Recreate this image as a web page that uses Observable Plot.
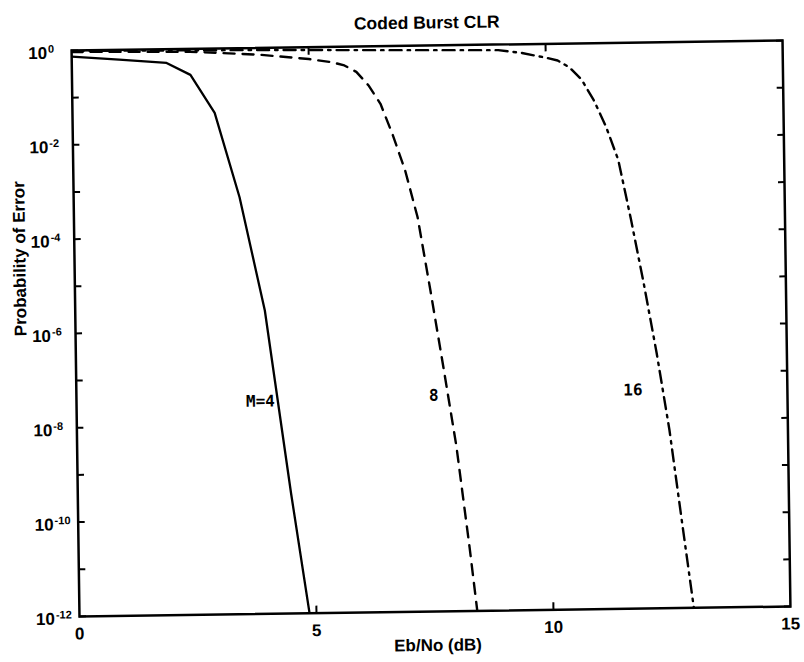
<!DOCTYPE html>
<html>
<head>
<meta charset="utf-8">
<script src="https://cdn.jsdelivr.net/npm/d3@7"></script>
<script src="https://cdn.jsdelivr.net/npm/@observablehq/plot@0.6"></script>
<style>
  html, body { margin: 0; padding: 0; background: #fff; }
  #chart { width: 804px; height: 662px; overflow: hidden; }
  /* the printed page sits slightly askew */
  #chart svg { display: block; transform: rotate(-0.8deg); transform-origin: 430.4px 328.2px; }
</style>
</head>
<body>
<div id="chart"></div>
<script>
// Eb/No (dB) and probability of error for each modulation order
const ebnoM4  = [0, 1, 2, 2.5, 3, 3.5, 4, 4.5, 5];
const pErrM4  = [0.74, 0.62, 0.51, 0.28, 0.043, 6.9e-4, 2.7e-6, 3.5e-10, 8.9e-14];

const ebnoM8  = [0, 2.5, 4, 5, 5.5, 5.75, 6, 6.25, 6.5, 6.75, 7, 7.25, 7.5, 7.75, 8, 8.25, 8.5];
const pErrM8  = [0.93, 0.87, 0.71, 0.56, 0.47, 0.40, 0.29, 0.15, 0.06, 0.013, 2.3e-3, 2.3e-4, 6.3e-6, 1.5e-7, 3.2e-9, 2.2e-11, 1.0e-13];

const ebnoM16 = [0, 4, 7, 9, 9.5, 10, 10.25, 10.5, 10.75, 11, 11.25, 11.5, 11.75, 12, 12.25, 12.5, 12.75, 13];
const pErrM16 = [0.98, 0.9, 0.81, 0.76, 0.65, 0.51, 0.44, 0.31, 0.17, 0.062, 0.017, 3.3e-3, 1.8e-4, 7.9e-6, 2.7e-7, 6.0e-9, 5.3e-11, 5.0e-13];

// curve annotations
const curveLabels = ["M=4", "8", "16"];
const labelEbno   = [3.88, 7.54, 11.74];
const labelPErr   = [3.2e-8, 3.8e-8, 4.3e-8];

// axes
const xTickValues = [0, 5, 10, 15];
const xInnerTicks = [5, 10];
const yDecades    = [1, 1e-1, 1e-2, 1e-3, 1e-4, 1e-5, 1e-6, 1e-7, 1e-8, 1e-9, 1e-10, 1e-11, 1e-12];
const yTickValues = [1, 1e-2, 1e-4, 1e-6, 1e-8, 1e-10, 1e-12];
const yTickBase   = "10";
const yTickExps   = ["0", "-2", "-4", "-6", "-8", "-10", "-12"];

const titleText = "Coded Burst CLR";
const xLabel = "Eb/No (dB)";
const yLabel = "Probability of Error";

const toRows = (xs, ps) => xs.map((x, i) => ({ebno: x, p: ps[i]}));
const rowsM4 = toRows(ebnoM4, pErrM4);
const rowsM8 = toRows(ebnoM8, pErrM8);
const rowsM16 = toRows(ebnoM16, pErrM16);
const labelRows = curveLabels.map((t, i) => ({text: t, ebno: labelEbno[i], p: labelPErr[i]}));

const ink = "#000";
const tickStyle = {tickSize: 7, fill: "none", label: null, stroke: ink, strokeWidth: 2};

const chart = Plot.plot({
  width: 804,
  height: 662,
  marginLeft: 75,
  marginRight: 18,
  marginTop: 45,
  marginBottom: 51,
  style: {
    fontFamily: "'Liberation Sans', Arial, Helvetica, sans-serif",
    fontSize: "17px",
    fontWeight: "bold",
    color: ink,
    background: "#fff",
    overflow: "visible"
  },
  x: {domain: [0, 15]},
  y: {type: "log", domain: [1e-12, 1]},
  marks: [
    // curves
    Plot.line(rowsM4,  {x: "ebno", y: "p", stroke: ink, strokeWidth: 2.3, clip: true}),
    Plot.line(rowsM8,  {x: "ebno", y: "p", stroke: ink, strokeWidth: 2.4, strokeDasharray: "11,8", clip: true}),
    Plot.line(rowsM16, {x: "ebno", y: "p", stroke: ink, strokeWidth: 2.4, strokeDasharray: "12,6,2.5,6", clip: true}),
    Plot.text(labelRows, {
      x: "ebno", y: "p", text: "text",
      fontFamily: "'DejaVu Sans Mono', 'Liberation Mono', monospace",
      fontSize: 16, fontWeight: "bold", fill: ink
    }),
    // box and inward ticks on all four sides
    Plot.frame({stroke: ink, strokeWidth: 2.5}),
    Plot.axisY(yDecades, {anchor: "left", dx: 7, ...tickStyle}),
    Plot.axisY(yDecades, {anchor: "right", dx: -7, ...tickStyle}),
    Plot.axisX(xInnerTicks, {anchor: "bottom", dy: -7, ...tickStyle}),
    Plot.axisX(xInnerTicks, {anchor: "top", dy: 7, ...tickStyle}),
    // tick labels (the exponent is added as a raised tspan below)
    Plot.axisY(yTickValues, {
      anchor: "left", tickSize: 0, tickPadding: 0, textAnchor: "start", dx: -43.5, dy: 2.5,
      tickFormat: () => yTickBase,
      label: null, fill: ink, fontSize: 17, fontWeight: "bold"
    }),
    Plot.axisX(xTickValues, {
      anchor: "bottom", tickSize: 0, tickPadding: 17.5, lineAnchor: "middle",
      label: null, fill: ink, fontSize: 17, fontWeight: "bold"
    }),
    // title and axis titles
    Plot.text([titleText], {frameAnchor: "top", dy: -22.6, lineAnchor: "middle", fontSize: 17.5, fontWeight: "bold", fill: ink}),
    Plot.text([xLabel], {frameAnchor: "bottom", dx: 2.6, dy: 34, lineAnchor: "middle", fontSize: 17, fontWeight: "bold", fill: ink}),
    Plot.text([yLabel], {frameAnchor: "left", dx: -54.6, dy: 2, rotate: -90, lineAnchor: "middle", fontSize: 17, fontWeight: "bold", fill: ink})
  ]
});

// raised exponents on the log-axis labels
d3.select(chart)
  .selectAll('g[aria-label="y-axis tick label"] text')
  .each(function (d, i) {
    d3.select(this).append("tspan")
      .attr("dy", "-0.55em")
      .attr("dx", "1")
      .attr("font-size", 11)
      .text(yTickExps[i]);
  });

document.getElementById("chart").appendChild(chart);
</script>
</body>
</html>
